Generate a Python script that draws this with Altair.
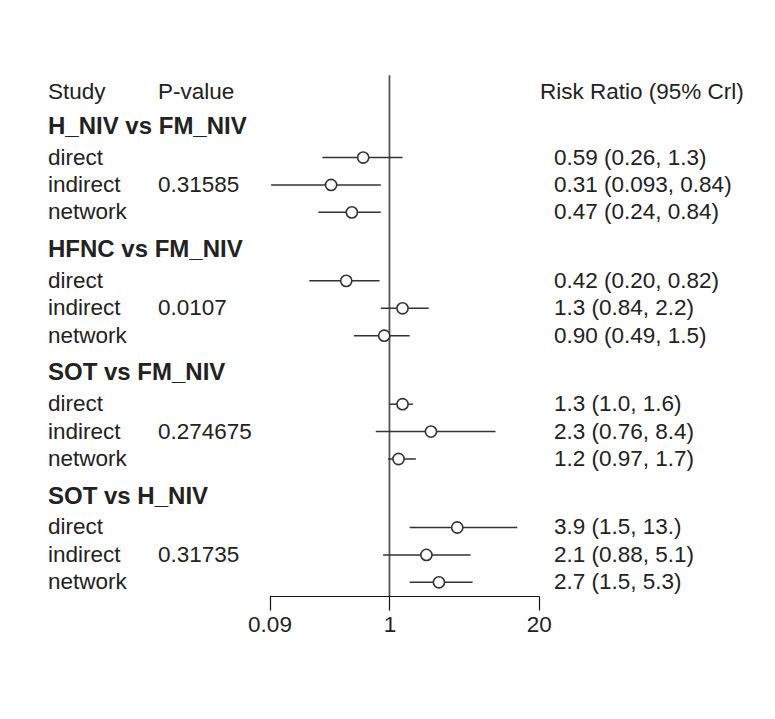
import altair as alt
import pandas as pd

# Network meta-analysis: risk ratios with 95% credible intervals
comparisons = ["H_NIV vs FM_NIV", "HFNC vs FM_NIV", "SOT vs FM_NIV", "SOT vs H_NIV"]
p_values = ["0.31585", "0.0107", "0.274675", "0.31735"]
evidence = ["direct", "indirect", "network"]
estimates = [["0.59", "0.31", "0.47"], ["0.42", "1.3", "0.90"],
             ["1.3", "2.3", "1.2"], ["3.9", "2.1", "2.7"]]
lowers = [["0.26", "0.093", "0.24"], ["0.20", "0.84", "0.49"],
          ["1.0", "0.76", "0.97"], ["1.5", "0.88", "1.5"]]
uppers = [["1.3", "0.84", "0.84"], ["0.82", "2.2", "1.5"],
          ["1.6", "8.4", "1.7"], ["13.", "5.1", "5.3"]]
x_ticks = [0.09, 1, 20]

# vertical layout in row units
GROUP_STEP = 4.5
HEADER_OFFSET = -1.12
TITLE_ROW = -2.4
TOP_ROW = -3.0
AXIS_ROW = 16.0

rows, headers = [], []
for g, comp in enumerate(comparisons):
    base = g * GROUP_STEP
    headers.append({"label": comp, "pos": base + HEADER_OFFSET})
    for k, ev in enumerate(evidence):
        e, lo, hi = estimates[g][k], lowers[g][k], uppers[g][k]
        rows.append({
            "evidence": ev,
            "pos": base + k,
            "est": float(e),
            "lo": float(lo),
            "hi": float(hi),
            "ci": f"{e} ({lo}, {hi})",
            "p": p_values[g] if ev == "indirect" else "",
        })
rows = pd.DataFrame(rows)
headers = pd.DataFrame(headers)
titles = pd.DataFrame({"pos": [TITLE_ROW]})

FONT = "Liberation Sans"
FS = 22.5
FS_BOLD = 24
INK = "#222222"
LINE = "#333333"

xscale = alt.Scale(type="log", domain=[0.09, 20], range=[269.5, 538.7])
yscale = alt.Scale(domain=[-5.75, 16], range=[0, 596])
xaxis = alt.Axis(values=x_ticks, format=".2~f", tickSize=14, labelFontSize=FS,
                 labelFont=FONT, labelColor=INK, domainColor="#111111",
                 tickColor="#111111", domainWidth=1.2, tickWidth=1.2,
                 labelPadding=3, title=None, grid=False, labelFlush=False,
                 labelOverlap=False)
Y = lambda f: alt.Y(f, scale=yscale, axis=None)

ref = alt.Chart(pd.DataFrame({"x": [1], "y": [TOP_ROW], "y2": [AXIS_ROW]})).mark_rule(
    color="#555555", strokeWidth=1.8
).encode(x=alt.X("x:Q", scale=xscale, axis=xaxis), y=Y("y:Q"), y2="y2:Q")

ci = alt.Chart(rows).mark_rule(color=LINE, strokeWidth=1.5).encode(
    x=alt.X("lo:Q", scale=xscale, axis=xaxis), x2="hi:Q", y=Y("pos:Q")
)

pts = alt.Chart(rows).mark_point(
    shape="circle", size=125, fill="white", stroke=LINE, strokeWidth=1.6,
    opacity=1, fillOpacity=1
).encode(x=alt.X("est:Q", scale=xscale, axis=xaxis), y=Y("pos:Q"))


def text_layer(df, field, x, weight="normal", size=FS):
    return alt.Chart(df).mark_text(
        align="left", baseline="middle", font=FONT, fontSize=size,
        fontWeight=weight, color=INK
    ).encode(x=alt.value(x), y=Y("pos:Q"), text=f"{field}:N")


ev_text = text_layer(rows, "evidence", 48)
p_text = text_layer(rows, "p", 158)
ci_text = text_layer(rows, "ci", 554)
grp_text = text_layer(headers, "label", 48, weight="bold", size=FS_BOLD)
hdr_study = text_layer(titles.assign(t="Study"), "t", 48)
hdr_p = text_layer(titles.assign(t="P-value"), "t", 158)
hdr_rr = text_layer(titles.assign(t="Risk Ratio (95% Crl)"), "t", 540)

chart = alt.layer(
    ref, ci, pts, ev_text, p_text, ci_text, grp_text, hdr_study, hdr_p, hdr_rr
).properties(
    width=775, height=596,
    autosize=alt.AutoSizeParams(type="none"),
    padding={"left": 0, "top": 0, "right": 0, "bottom": 123},
    background="white",
).configure_view(stroke=None)

chart.save("out.html", embed_options={"renderer": "svg", "actions": False})
